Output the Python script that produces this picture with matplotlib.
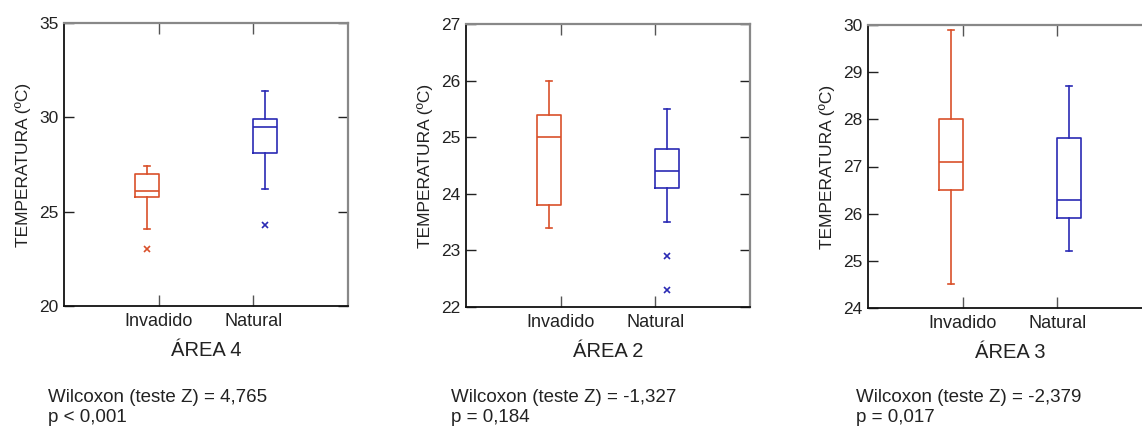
import matplotlib
matplotlib.use("Agg")
import matplotlib.pyplot as plt

plt.rcParams['font.family'] = ['Liberation Sans', 'DejaVu Sans']

# box statistics: low whisker, Q1, median, Q3, high whisker, outliers
groups = ["Invadido", "Natural"]

area_names = ["ÁREA 4", "ÁREA 2", "ÁREA 3"]

area4_inv = [24.1, 25.8, 26.1, 27.0, 27.4]
area4_inv_out = [23.0]
area4_nat = [26.2, 28.1, 29.5, 29.9, 31.4]
area4_nat_out = [24.3]

area2_inv = [23.4, 23.8, 25.0, 25.4, 26.0]
area2_inv_out = []
area2_nat = [23.5, 24.1, 24.4, 24.8, 25.5]
area2_nat_out = [22.9, 22.3]

area3_inv = [24.5, 26.5, 27.1, 28.0, 29.9]
area3_inv_out = []
area3_nat = [25.2, 25.9, 26.3, 27.6, 28.7]
area3_nat_out = []

ylims = [(20, 35), (22, 27), (24, 30)]
yticks = [[20, 25, 30, 35], [22, 23, 24, 25, 26, 27], [24, 25, 26, 27, 28, 29, 30]]

stats_text = ["Wilcoxon (teste Z) = 4,765\np < 0,001",
              "Wilcoxon (teste Z) = -1,327\np = 0,184",
              "Wilcoxon (teste Z) = -2,379\np = 0,017"]

colors = ["#d9502a", "#2a2ab4"]

W, H = 1142, 426
fig = plt.figure(figsize=(W / 100, H / 100), dpi=100)

# axes boxes in pixels (left, top, right, bottom)
boxes_px = [(64, 23, 348, 306), (466, 24, 750, 307), (868, 25, 1152, 308)]
text_x_px = [48, 451, 856]

data = [
    [(area4_inv, area4_inv_out), (area4_nat, area4_nat_out)],
    [(area2_inv, area2_inv_out), (area2_nat, area2_nat_out)],
    [(area3_inv, area3_inv_out), (area3_nat, area3_nat_out)],
]


def make_stats(vals, outs):
    lo, q1, med, q3, hi = vals
    return dict(whislo=lo, q1=q1, med=med, q3=q3, whishi=hi, fliers=outs)


for i in range(3):
    l, t, r, b = boxes_px[i]
    ax = fig.add_axes([l / W, 1 - b / H, (r - l) / W, (b - t) / H])
    positions = [0.875, 2.125]
    for j in range(2):
        vals, outs = data[i][j]
        c = colors[j]
        ax.bxp([make_stats(vals, outs)], positions=[positions[j]], widths=0.25,
               showfliers=True, capwidths=0.07,
               boxprops=dict(color=c, lw=1.2),
               medianprops=dict(color=c, lw=1.2),
               whiskerprops=dict(color=c, lw=1.2),
               capprops=dict(color=c, lw=1.2),
               flierprops=dict(marker='x', markersize=4, markeredgecolor=c,
                               markeredgewidth=1.2))
    ax.set_xlim(0, 3)
    ax.set_ylim(*ylims[i])
    ax.set_yticks(yticks[i])
    ax.set_xticks([1, 2])
    ax.set_xticklabels(groups, fontsize=13)
    ax.tick_params(axis='y', direction='in', length=7, width=1, labelsize=12.5,
                   right=True, pad=4, color='#222222', labelcolor='#222222')
    ax.tick_params(axis='x', direction='in', length=8, width=1, top=True,
                   pad=5, color='#555555', labelcolor='#222222')
    for side in ['top', 'right']:
        ax.spines[side].set_color('#888888')
        ax.spines[side].set_linewidth(1.6)
    for side in ['left', 'bottom']:
        ax.spines[side].set_color('#111111')
        ax.spines[side].set_linewidth(1.3)
    ax.set_ylabel("TEMPERATURA (ºC)", fontsize=12.5, labelpad=6, color='#222222')
    ax.set_xlabel(area_names[i], fontsize=14.5, labelpad=8, color='#222222')
    fig.text(text_x_px[i] / W, 1 - 389 / H, stats_text[i], color='#222222',
             fontsize=13.5, va='top', ha='left', linespacing=1.2)

fig.savefig("out.png", dpi=100)
